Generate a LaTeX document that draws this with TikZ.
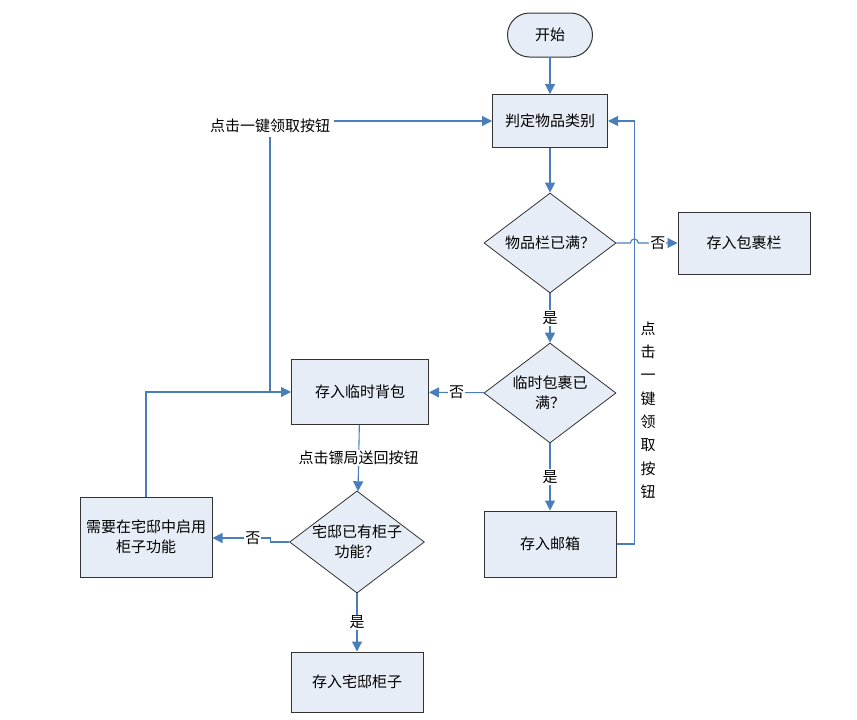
\documentclass[tikz,border=0pt]{standalone}
\usepackage{fontspec}
\setmainfont{Noto Sans CJK SC}
\usetikzlibrary{shapes.geometric,arrows.meta}
\definecolor{boxfill}{HTML}{E7EDF6}
\definecolor{flowblue}{HTML}{4A7EBB}

\begin{document}
\begin{tikzpicture}[x=1pt,y=-1pt,
  font=\fontsize{15}{20}\selectfont,
  box/.style={draw=black!80,fill=boxfill,line width=1pt,inner sep=0pt,align=center},
  choice/.style={diamond,draw=black!80,fill=boxfill,line width=0.8pt,inner sep=0pt,align=center,aspect=1.32},
  flow/.style={draw=flowblue,line width=1.1pt},
  arr/.style={flow,-{Triangle[length=10pt,width=10pt]}},
  lbl/.style={fill=white,inner sep=1pt}]
\useasboundingbox (0,0) rectangle (857,720);
\node[box,rounded corners=22pt,minimum width=85pt,minimum height=44pt] (start) at (550,35) {开始};
\node[box,minimum width=115pt,minimum height=53pt] (judge) at (550,121) {判定物品类别};
\node[choice,minimum width=132pt,minimum height=100pt] (full) at (550,243) {物品栏已满？};
\node[box,minimum width=132pt,minimum height=62pt] (bag) at (744,243) {存入包裹栏};
\node[choice,minimum width=132pt,minimum height=100pt] (tmpfull) at (550,393) {临时包裹已\\满？};
\node[box,minimum width=137pt,minimum height=65pt] (tmp) at (360,392) {存入临时背包};
\node[box,minimum width=132pt,minimum height=66pt] (mail) at (550,544) {存入邮箱};
\node[choice,minimum width=131pt,minimum height=91pt] (house) at (357,542) {宅邸已有柜子\\功能？};
\node[box,minimum width=132pt,minimum height=80pt] (need) at (146,537) {需要在宅邸中启用\\柜子功能};
\node[box,minimum width=132pt,minimum height=60pt] (chest) at (357,682) {存入宅邸柜子};
\node (keylbl) at (270,126) {点击一键领取按钮};
\node[align=center,font=\fontsize{15}{23.3}\selectfont] (keyvert) at (648,410) {点\\击\\一\\键\\领\\取\\按\\钮};
\coordinate (joint) at (keylbl.south |- tmp.west);
\draw[arr] (start) -- (judge);
\draw[arr] (judge) -- (full);
\draw[arr] (full.east) -- ++(14,0) arc[start angle=180,end angle=360,radius=4] -- node[lbl] {否} (bag.west);
\draw[arr] (full) -- node[lbl] {是} (tmpfull);
\draw[arr] (tmpfull) -- node[lbl] {否} (tmp);
\draw[arr] (tmpfull) -- node[lbl] {是} (mail);
\draw[arr] (mail.east) -- ++(18,0) |- (judge.east);
\draw[arr] (tmp) -- node[lbl] {点击镖局送回按钮} (house);
\draw[arr] (house.west) -- ++(-19,0) -- ++(0,-4) -- node[lbl,pos=0.3] {否} (need.east |- 0,538);
\draw[arr] (house) -- node[lbl] {是} (chest);
\draw[arr] (need.north) |- (tmp.west);
\draw[flow] (joint) -- (keylbl.south);
\draw[arr] (keylbl.east |- judge.west) -- (judge.west);
\end{tikzpicture}
\end{document}
